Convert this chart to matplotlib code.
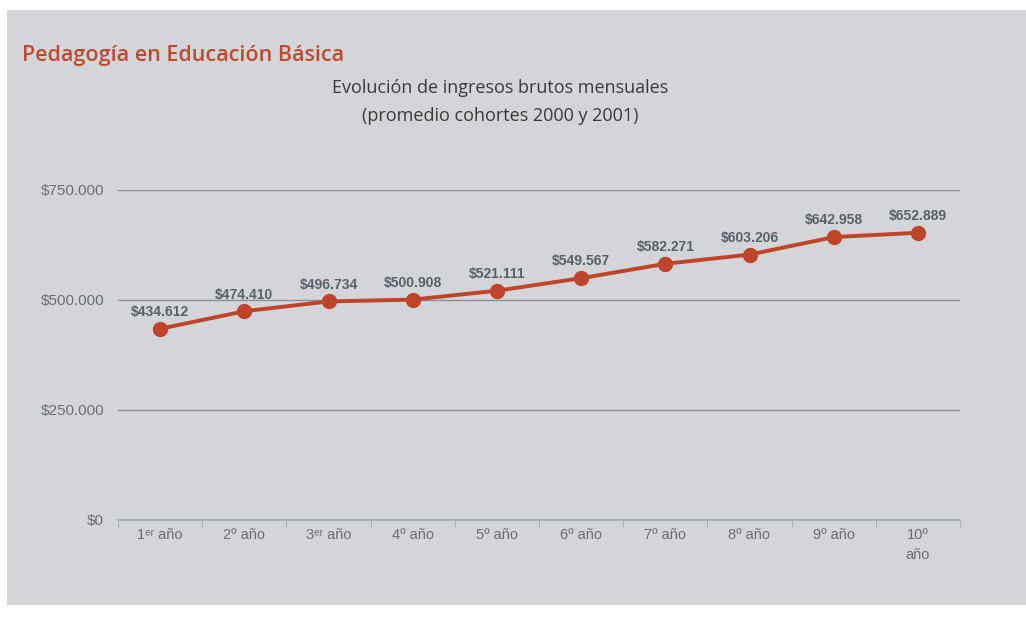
import matplotlib.pyplot as plt
from matplotlib.ticker import FixedLocator, FuncFormatter

# datos
anios = ["1ᵉʳ año", "2º año", "3ᵉʳ año", "4º año", "5º año",
         "6º año", "7º año", "8º año", "9º año", "10º\naño"]
ingresos = [434612, 474410, 496734, 500908, 521111,
            549567, 582271, 603206, 642958, 652889]
marcas_y = [0, 250000, 500000, 750000]

fondo = "#d3d5d9"
rojo = "#c0442a"

plt.rcParams["font.family"] = ["Liberation Sans", "DejaVu Sans"]

fig = plt.figure(figsize=(10.26, 6.17), dpi=100)
fig.patch.set_facecolor("white")

# recuadro gris de fondo
bg = fig.add_axes([7 / 1026, 12 / 617, 1 - 7 / 1026, 1 - 22 / 617], zorder=-1)
bg.set_facecolor(fondo)
bg.set_xticks([])
bg.set_yticks([])
for s in bg.spines.values():
    s.set_visible(False)

ax = fig.add_axes([118 / 1026, 97 / 617, 842 / 1026, 330 / 617])
ax.set_facecolor("none")

x = list(range(len(ingresos)))
ax.plot(x, ingresos, color=rojo, lw=2.8, marker="o", ms=10, zorder=3)

def fmt(v):
    return "$" + f"{v:,.0f}".replace(",", ".")

for xi, v in zip(x, ingresos):
    ax.annotate(fmt(v), (xi, v), xytext=(0, 7), textcoords="offset points",
                ha="center", va="bottom", fontsize=10, fontweight="bold",
                color="#5a6068")

ax.set_xlim(-0.5, len(ingresos) - 0.5)
ax.set_ylim(0, 750000)
ax.yaxis.set_major_locator(FixedLocator(marcas_y))
ax.yaxis.set_major_formatter(FuncFormatter(lambda v, p: fmt(v)))
ax.grid(axis="y", color="#8c9096", lw=1)
ax.set_axisbelow(True)

ax.set_xticks(x)
ax.set_xticklabels(anios, fontsize=10.5, color="#6a6e74", linespacing=1.5)
ax.set_xticks([i - 0.5 for i in range(len(ingresos) + 1)], minor=True)
ax.tick_params(axis="x", which="major", length=0, pad=6)
ax.tick_params(axis="x", which="minor", length=5, color="#a0a8b8", direction="out")
ax.tick_params(axis="y", length=0, pad=10, labelsize=11, labelcolor="#6a6e74")

for s in ["top", "right", "left"]:
    ax.spines[s].set_visible(False)
ax.spines["bottom"].set_color("#a0a8b8")
ax.spines["bottom"].set_linewidth(1.2)

fig.text(22 / 1026, 1 - 56 / 617, "Pedagogía en Educación Básica",
         fontsize=15.5, fontweight="semibold", color="#c04a2c", ha="left",
         va="center", family=["Open Sans", "DejaVu Sans"])
fig.text(500 / 1026, 1 - 102 / 617,
         "Evolución de ingresos brutos mensuales\n(promedio cohortes 2000 y 2001)",
         fontsize=13, color="#3a3a3a", ha="center", va="center",
         linespacing=1.75, family=["Open Sans", "DejaVu Sans"])

fig.savefig("out.png", dpi=100, facecolor=fig.get_facecolor())
